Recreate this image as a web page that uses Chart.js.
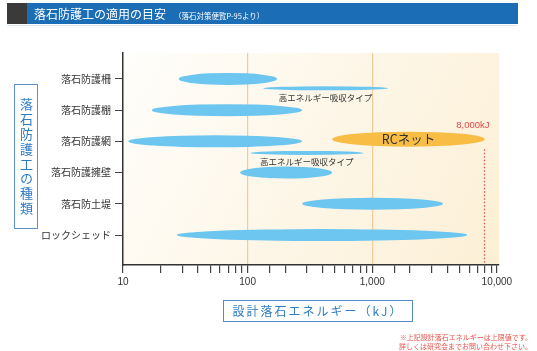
<!DOCTYPE html>
<html lang="ja">
<head>
<meta charset="utf-8">
<title>落石防護工の適用の目安</title>
<script src="https://cdn.jsdelivr.net/npm/chart.js@4/dist/chart.umd.min.js"></script>
<style>
  body { margin: 0; background: #fff; font-family: "Noto Sans CJK JP", sans-serif; }
  #wrap { position: relative; width: 537px; height: 351px; overflow: hidden; }
  #myChart { position: absolute; left: 0; top: 0; }
  .head { position: absolute; left: 7px; top: 3px; width: 511px; height: 21px; background: #1b6db5; }
  .head .sq { position: absolute; left: 0; top: 0; width: 20px; height: 21px; background: #3a3a3a; }
  .head .t { position: absolute; left: 27px; top: 0; line-height: 21px; color: #fff; font-size: 12px; white-space: nowrap; }
  .head .t small { font-size: 7.5px; margin-left: 8px; }
  .headline { position: absolute; left: 7px; top: 25px; width: 511px; height: 1px; background: #dce9f5; }
  .ybox { position: absolute; left: 14px; top: 84px; width: 22px; height: 141px; border: 1px solid #5a93cc;
          color: #2f7cc4; font-size: 13px; writing-mode: vertical-rl; text-orientation: upright;
          line-height: 22px; text-align: center; letter-spacing: 1.8px; padding-top: 2px; box-sizing: content-box; }
  .xbox { position: absolute; left: 223px; top: 300px; width: 188px; height: 20px; border: 1px solid #4f8cc8;
          color: #2f7cc4; font-size: 12px; line-height: 20px; text-align: center; letter-spacing: 2px; }
  .note { position: absolute; right: 5px; top: 333px; color: #e8504a; font-size: 7px; line-height: 9px; text-align: right; }
</style>
</head>
<body>
<div id="wrap">
  <canvas id="myChart" width="537" height="351"></canvas>
  <div class="head"><div class="sq"></div><div class="t">落石防護工の適用の目安<small>（落石対策便覧P-95より）</small></div></div>
  <div class="headline"></div>
  <div class="ybox">落石防護工の種類</div>
  <div class="xbox">設計落石エネルギー（kJ）</div>
  <div class="note">※上記設計落石エネルギーは上限値です。<br>詳しくは研究会までお問い合わせ下さい。</div>
</div>
<script>
// categories (rows, top to bottom)
const categories = ['落石防護柵', '落石防護棚', '落石防護網', '落石防護擁壁', '落石防土堤', 'ロックシェッド'];
// applicable energy range of each work (kJ)
const lowKJ = [28, 17, 11, 87, 274, 27];
const highKJ = [172, 274, 274, 477, 3700, 5800];

// high energy absorbing types (row position between categories)
const hiTypeRows = [0.3, 2.37];
const hiTypeLow = [133, 105];
const hiTypeHigh = [1340, 850];
const hiTypeLabel = '高エネルギー吸収タイプ';

// RC net
const rcRow = [1.93];
const rcLow = [477];
const rcHigh = [8000];
const rcLabel = 'RCネット';
const limitLabel = '8,000kJ';

// labelled ticks on the energy axis
const xTickValues = [10, 100, 1000, 10000];
const lineValues = [100, 1000];

// Plugin: cream background of the plot area
const plotBackground = {
    id: 'plotBackground',
    beforeDraw(chart) {
        const { ctx, chartArea: a } = chart;
        const g = ctx.createLinearGradient(a.left, a.top, a.right, a.bottom);
        g.addColorStop(0, '#fffefb');
        g.addColorStop(1, '#fcefd5');
        ctx.save();
        ctx.fillStyle = g;
        ctx.fillRect(a.left, a.top, a.right - a.left, a.bottom - a.top);
        ctx.restore();
    }
};

// Plugin: draw each floating bar as an ellipse, plus the labels
const ellipses = {
    id: 'ellipses',
    afterDatasetsDraw(chart) {
        const { ctx, scales } = chart;
        ctx.save();
        chart.data.datasets.forEach((ds, di) => {
            const meta = chart.getDatasetMeta(di);
            meta.data.forEach(el => {
                const p = el.getProps(['x', 'y', 'base'], true);
                const cx = (p.x + p.base) / 2;
                const rx = Math.abs(p.x - p.base) / 2;
                ctx.fillStyle = ds.ellipseColor;
                ctx.beginPath();
                ctx.ellipse(cx, p.y, rx, ds.ellipseHeight / 2, 0, 0, Math.PI * 2);
                ctx.fill();
                if (ds.caption) {
                    ctx.fillStyle = '#333';
                    ctx.font = ds.captionFont;
                    ctx.textAlign = 'center';
                    ctx.textBaseline = 'middle';
                    ctx.fillText(ds.caption, cx, p.y + ds.captionOffset);
                }
            });
        });

        // 8,000kJ limit line
        const lx = Math.round(scales.x.getPixelForValue(rcHigh[0])) - 0.5;
        const ly = scales.y.getPixelForValue(rcRow[0]);
        ctx.strokeStyle = '#e0585a';
        ctx.lineWidth = 1.3;
        ctx.setLineDash([1.5, 2]);
        ctx.beginPath();
        ctx.moveTo(lx, ly + 10);
        ctx.lineTo(lx, scales.y.bottom);
        ctx.stroke();
        ctx.setLineDash([]);
        ctx.fillStyle = '#e2474b';
        ctx.font = '9.5px "Liberation Sans", sans-serif';
        ctx.textAlign = 'right';
        ctx.textBaseline = 'middle';
        ctx.fillText(limitLabel, lx + 5, ly - 14);
        ctx.restore();
    }
};

const data = {
    datasets: [
        {
            label: 'main',
            data: categories.map((c, i) => ({ x: [lowKJ[i], highKJ[i]], y: i })),
            ellipseColor: '#6cc6ef',
            ellipseHeight: 12
        },
        {
            label: hiTypeLabel,
            data: hiTypeRows.map((r, i) => ({ x: [hiTypeLow[i], hiTypeHigh[i]], y: r })),
            ellipseColor: '#6cc6ef',
            ellipseHeight: 4,
            caption: hiTypeLabel,
            captionFont: '8.5px "Noto Sans CJK JP", sans-serif',
            captionOffset: 9
        },
        {
            label: rcLabel,
            data: rcRow.map((r, i) => ({ x: [rcLow[i], rcHigh[i]], y: r })),
            ellipseColor: '#f7bd45',
            ellipseHeight: 15,
            caption: rcLabel,
            captionFont: '12.5px "Noto Sans CJK JP", sans-serif',
            captionOffset: 0
        }
    ]
};

const config = {
    type: 'bar',
    data,
    options: {
        responsive: false,
        animation: false,
        indexAxis: 'y',
        grouped: false,
        backgroundColor: 'rgba(0,0,0,0)',
        borderWidth: 0,
        layout: { padding: { top: 53, right: 38, left: 0, bottom: 0 } },
        scales: {
            x: {
                type: 'logarithmic',
                position: 'bottom',
                min: 10,
                max: 10400,
                border: { color: '#333', width: 1.5 },
                grid: {
                    color: ctx => (ctx.tick && lineValues.includes(ctx.tick.value)) ? '#f1cc98' : 'rgba(0,0,0,0)',
                    tickColor: '#444',
                    tickLength: 8,
                    lineWidth: 1.2
                },
                ticks: {
                    autoSkip: false,
                    maxRotation: 0,
                    padding: 3,
                    color: '#333',
                    font: { size: 10, family: '"Liberation Sans", sans-serif' },
                    callback: v => xTickValues.includes(v) ? v.toLocaleString('en-US') : ''
                },
                afterBuildTicks: scale => {
                    scale.ticks = scale.ticks.filter(t => t.value <= 10000);
                },
                afterFit: scale => { scale.height = 86; }
            },
            y: {
                type: 'linear',
                reverse: true,
                offset: false,
                min: -0.83,
                max: 5.96,
                border: { color: '#333', width: 1.5 },
                grid: { offset: false, drawOnChartArea: false, tickLength: 8, tickColor: '#444' },
                ticks: {
                    padding: 4,
                    color: '#333',
                    font: { size: 10, family: '"Noto Sans CJK JP", sans-serif' },
                    callback: v => categories[v] ?? ''
                },
                afterBuildTicks: scale => {
                    scale.ticks = categories.map((c, i) => ({ value: i }));
                },
                afterFit: scale => { scale.width = 123; }
            }
        },
        plugins: {
            legend: { display: false },
            tooltip: { enabled: false }
        }
    },
    plugins: [plotBackground, ellipses]
};

window.myChart = new Chart(document.getElementById('myChart'), config);
</script>
</body>
</html>
